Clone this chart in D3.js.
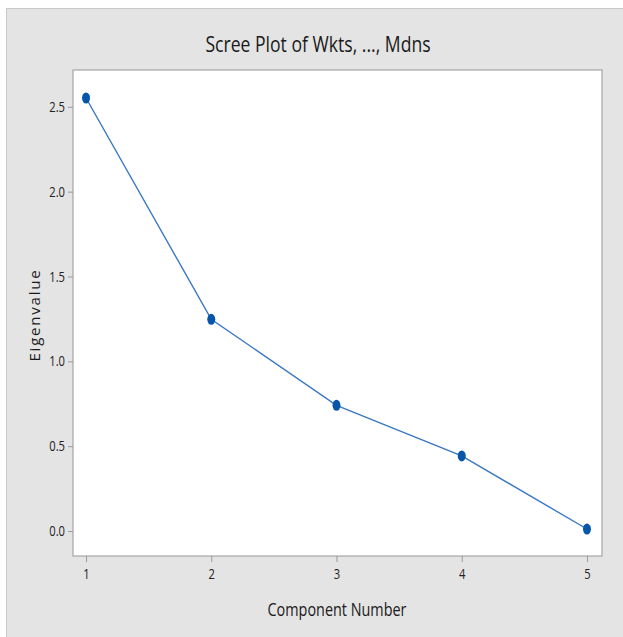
<!DOCTYPE html>
<html>
<head>
<meta charset="utf-8">
<script src="https://cdn.jsdelivr.net/npm/d3@7"></script>
<style>
  body { margin: 0; background: #fff; }
  svg { display: block; }
</style>
</head>
<body>
<div id="graphic"></div>
<script>
const components = [1, 2, 3, 4, 5]
const eigenvalues = [2.552, 1.248, 0.741, 0.443, 0.012]
const yTicks = [0.0, 0.5, 1.0, 1.5, 2.0, 2.5]
const xTicks = [1, 2, 3, 4, 5]

const W = 623, H = 637
const plot = { left: 73, top: 70, right: 602, bottom: 556 }

const svg = d3.select("#graphic")
    .append("svg")
    .attr("width", W)
    .attr("height", H)

// grey outer panel
svg.append("rect")
    .attr("x", 6.5).attr("y", 8.5)
    .attr("width", W).attr("height", H)
    .attr("fill", "#e4e4e4")
    .attr("stroke", "#c8c8c8")

svg.append("rect")
    .attr("x", plot.left).attr("y", plot.top)
    .attr("width", plot.right - plot.left)
    .attr("height", plot.bottom - plot.top)
    .attr("fill", "#fff")
    .attr("stroke", "#a5a5a5")
    .attr("stroke-width", 1.2)

const x = d3.scaleLinear()
    .domain([0.896, 5.12])
    .range([plot.left, plot.right])

const y = d3.scaleLinear()
    .domain([-0.147, 2.717])
    .range([plot.bottom, plot.top])

const xAxis = svg.append("g")
    .attr("transform", `translate(0, ${plot.bottom})`)
    .call(d3.axisBottom(x).tickValues(xTicks).tickFormat(d3.format("d")).tickSize(6).tickSizeOuter(0).tickPadding(7))
xAxis.select(".domain").remove()

const yAxis = svg.append("g")
    .attr("transform", `translate(${plot.left}, 0)`)
    .call(d3.axisLeft(y).tickValues(yTicks).tickFormat(d3.format(".1f")).tickSize(5).tickSizeOuter(0).tickPadding(3))
yAxis.select(".domain").remove()

svg.selectAll(".tick line").attr("stroke", "#9a9a9a")
svg.selectAll(".tick text")
    .attr("font-family", "Open Sans, sans-serif")
    .attr("font-size", "14px")
    .attr("fill", "#222")

const line = d3.line()
    .x((d, i) => x(components[i]))
    .y(d => y(d))

svg.append("path")
    .datum(eigenvalues)
    .attr("fill", "none")
    .attr("stroke", "#3a78c4")
    .attr("stroke-width", 1.4)
    .attr("d", line)

svg.append("g")
    .selectAll("ellipse")
    .data(eigenvalues)
    .join("ellipse")
    .attr("cx", (d, i) => x(components[i]))
    .attr("cy", d => y(d))
    .attr("rx", 4)
    .attr("ry", 5.5)
    .attr("fill", "#0555a8")

svg.append("text")
    .attr("class", "narrow")
    .attr("x", 318).attr("y", 52)
    .attr("text-anchor", "middle")
    .attr("font-family", "Open Sans, sans-serif")
    .attr("font-size", "22px")
    .attr("fill", "#1a1a1a")
    .text("Scree Plot of Wkts, ..., Mdns")

svg.append("text")
    .attr("class", "narrow")
    .attr("x", 337).attr("y", 616)
    .attr("text-anchor", "middle")
    .attr("font-family", "Open Sans, sans-serif")
    .attr("font-size", "18px")
    .attr("fill", "#1a1a1a")
    .text("Component Number")

svg.append("text")
    .attr("transform", "translate(40, 315) rotate(-90)")
    .attr("text-anchor", "middle")
    .attr("font-family", "Open Sans, sans-serif")
    .attr("font-size", "15px")
    .attr("letter-spacing", "1.8px")
    .attr("fill", "#1a1a1a")
    .text("Eigenvalue")

// squeeze text horizontally, the original uses a condensed face
svg.selectAll(".tick text, text.narrow").each(function () {
    const w = this.getComputedTextLength()
    d3.select(this)
        .attr("textLength", w * 0.8)
        .attr("lengthAdjust", "spacingAndGlyphs")
})
</script>
</body>
</html>
